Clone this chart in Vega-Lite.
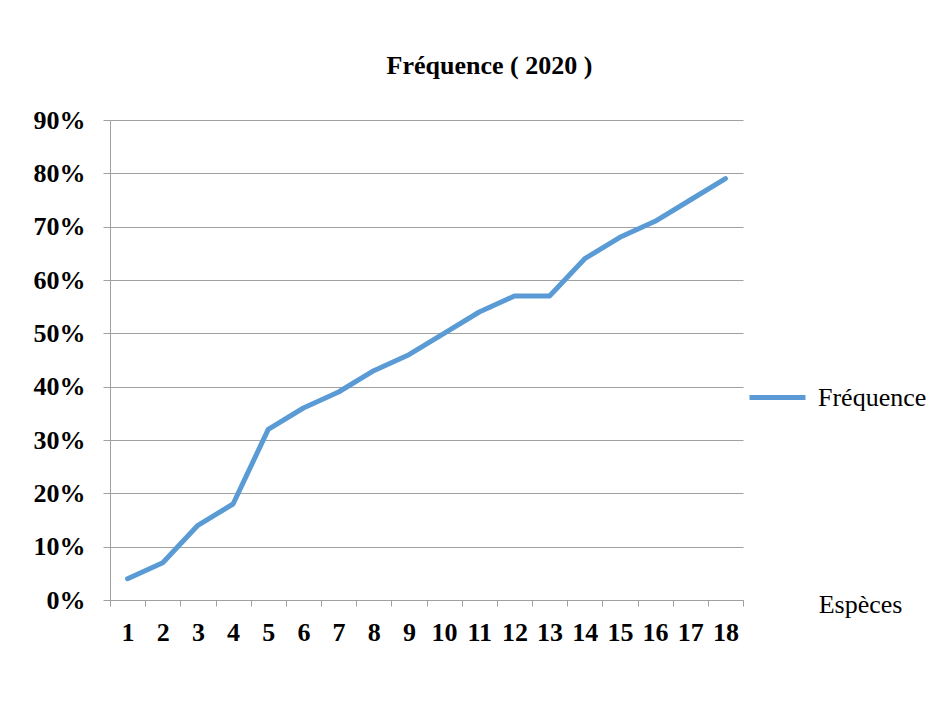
{
  "$schema": "https://vega.github.io/schema/vega-lite/v6.json",
  "autosize": "none",
  "width": 633,
  "height": 480,
  "padding": {"left": 110, "top": 120, "right": 199, "bottom": 102},
  "background": "white",
  "title": {
    "text": "Fréquence ( 2020 )",
    "font": "Liberation Serif",
    "fontSize": 26,
    "fontWeight": "bold",
    "color": "black",
    "anchor": "middle",
    "dx": 63,
    "offset": 28
  },
  "data": {
    "values": [
      {"espece": 1, "freq": 0.04, "serie": "Fréquence"},
      {"espece": 2, "freq": 0.07, "serie": "Fréquence"},
      {"espece": 3, "freq": 0.14, "serie": "Fréquence"},
      {"espece": 4, "freq": 0.18, "serie": "Fréquence"},
      {"espece": 5, "freq": 0.32, "serie": "Fréquence"},
      {"espece": 6, "freq": 0.36, "serie": "Fréquence"},
      {"espece": 7, "freq": 0.39, "serie": "Fréquence"},
      {"espece": 8, "freq": 0.43, "serie": "Fréquence"},
      {"espece": 9, "freq": 0.46, "serie": "Fréquence"},
      {"espece": 10, "freq": 0.50, "serie": "Fréquence"},
      {"espece": 11, "freq": 0.54, "serie": "Fréquence"},
      {"espece": 12, "freq": 0.57, "serie": "Fréquence"},
      {"espece": 13, "freq": 0.57, "serie": "Fréquence"},
      {"espece": 14, "freq": 0.64, "serie": "Fréquence"},
      {"espece": 15, "freq": 0.68, "serie": "Fréquence"},
      {"espece": 16, "freq": 0.71, "serie": "Fréquence"},
      {"espece": 17, "freq": 0.75, "serie": "Fréquence"},
      {"espece": 18, "freq": 0.79, "serie": "Fréquence"}
    ]
  },
  "mark": {"type": "line", "strokeWidth": 5, "strokeCap": "round", "strokeJoin": "round"},
  "encoding": {
    "x": {
      "field": "espece",
      "type": "ordinal",
      "scale": {"type": "band", "paddingInner": 0, "paddingOuter": 0},
      "axis": {
        "title": "Espèces",
        "titleFont": "Liberation Serif",
        "titleFontSize": 26,
        "titleFontWeight": "normal",
        "titleColor": "black",
        "titleX": 750,
        "titleY": 4,
        "titleAlign": "center",
        "titleBaseline": "middle",
        "labelAngle": 0,
        "labelFont": "Liberation Serif",
        "labelFontSize": 26,
        "labelFontWeight": "bold",
        "labelColor": "black",
        "labelPadding": 13,
        "tickBand": "extent",
        "tickSize": 6,
        "tickColor": "#a0a0a0",
        "domainColor": "#a0a0a0",
        "grid": false
      }
    },
    "y": {
      "field": "freq",
      "type": "quantitative",
      "scale": {"domain": [0, 0.9], "nice": false},
      "axis": {
        "title": null,
        "format": ".0%",
        "values": [0, 0.1, 0.2, 0.3, 0.4, 0.5, 0.6, 0.7, 0.8, 0.9],
        "labelFont": "Liberation Serif",
        "labelFontSize": 26,
        "labelFontWeight": "bold",
        "labelColor": "black",
        "labelPadding": 18,
        "tickSize": 7,
        "tickColor": "#a0a0a0",
        "domainColor": "#a0a0a0",
        "gridColor": "#a0a0a0",
        "grid": true
      }
    },
    "color": {
      "field": "serie",
      "type": "nominal",
      "scale": {"range": ["#5b9bd5"]},
      "legend": {
        "title": null,
        "orient": "none",
        "legendX": 637,
        "legendY": 247,
        "symbolType": "stroke",
        "symbolStrokeWidth": 5,
        "symbolSize": 3136,
        "labelFont": "Liberation Serif",
        "labelFontSize": 26,
        "labelColor": "black",
        "labelOffset": 10
      }
    }
  },
  "config": {
    "view": {"stroke": null}
  }
}
